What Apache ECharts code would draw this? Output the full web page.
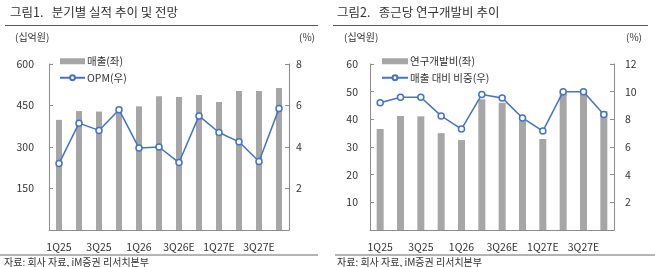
<!DOCTYPE html>
<html>
<head>
<meta charset="utf-8">
<script src="https://cdn.jsdelivr.net/npm/echarts@6/dist/echarts.min.js"></script>
<style>
  html, body { margin: 0; padding: 0; background: #fff; }
  #main { width: 655px; height: 267px; }
</style>
</head>
<body>
<div id="main"></div>
<script>
// 분기 카테고리
const quarters = ['1Q25', '2Q25', '3Q25', '4Q25', '1Q26', '2Q26E', '3Q26E', '4Q26E', '1Q27E', '2Q27E', '3Q27E', '4Q27E']
// 그림1: 매출(십억원), OPM(%)
const sales = [398, 430, 428, 436, 447, 483, 481, 488, 463, 502, 502, 513]
const opm = [3.2, 5.15, 4.8, 5.8, 3.95, 4.0, 3.25, 5.5, 4.7, 4.25, 3.3, 5.85]
// 그림2: 연구개발비(십억원), 매출 대비 비중(%)
const rnd = [36.5, 41.2, 41.1, 35.0, 32.5, 47.3, 46.0, 39.5, 32.9, 50.0, 50.1, 43.0]
const rndRatio = [9.2, 9.6, 9.6, 8.25, 7.3, 9.8, 9.55, 8.1, 7.15, 10.0, 10.0, 8.35]

const FONT = '"Noto Sans CJK KR", sans-serif'
const GRAY = '#a6a6a6'
const BLUE = '#4472c4'
const AXIS = '#8c8c8c'

const chart = echarts.init(document.getElementById('main'))

function xAxis(gridIndex) {
  return {
    type: 'category', gridIndex: gridIndex, data: quarters,
    axisLine: { lineStyle: { color: AXIS } },
    axisTick: { inside: true, length: 4, interval: 0, lineStyle: { color: AXIS } },
    axisLabel: { interval: 1, margin: 12, fontSize: 10.5, color: '#333', fontFamily: FONT }
  }
}

function yAxis(gridIndex, pos, max, interval, margin) {
  return {
    type: 'value', gridIndex: gridIndex, position: pos, min: 0, max: max, interval: interval,
    splitLine: { show: false },
    axisLine: { show: true, lineStyle: { color: AXIS } },
    axisTick: { show: true, inside: true, length: 4, lineStyle: { color: AXIS } },
    axisLabel: { showMinLabel: false, margin: margin, fontSize: 10.5, color: '#333', fontFamily: FONT }
  }
}

function lineSeries(name, data, x, y) {
  return {
    name: name, type: 'line', xAxisIndex: x, yAxisIndex: y, data: data,
    symbol: 'circle', symbolSize: 6, z: 5,
    lineStyle: { color: BLUE, width: 1.5 },
    itemStyle: { color: '#fff', borderColor: BLUE, borderWidth: 1.5 }
  }
}

function text(x, y, str, size, weight) {
  return {
    type: 'text', left: x, top: y,
    style: { text: str, fill: '#333', font: (weight || 'normal') + ' ' + size + 'px ' + FONT }
  }
}

const option = {
  animation: false,
  grid: [
    { left: 49, right: 366, top: 64, bottom: 37 },
    { left: 370, right: 41, top: 64, bottom: 37 }
  ],
  legend: [
    {
      left: 54, top: 51, orient: 'vertical', itemGap: 6, itemWidth: 25, itemHeight: 6,
      textStyle: { fontSize: 10.5, color: '#333', fontFamily: FONT, padding: [0, 0, 0, -3] },
      data: [{ name: '매출(좌)', icon: 'rect' }, { name: 'OPM(우)' }]
    },
    {
      left: 376, top: 51, orient: 'vertical', itemGap: 6, itemWidth: 26, itemHeight: 6,
      textStyle: { fontSize: 10.5, color: '#333', fontFamily: FONT, padding: [0, 0, 0, -3] },
      data: [{ name: '연구개발비(좌)', icon: 'rect' }, { name: '매출 대비 비중(우)' }]
    }
  ],
  xAxis: [xAxis(0), xAxis(1)],
  yAxis: [
    yAxis(0, 'left', 600, 150, 15),
    yAxis(0, 'right', 8, 2, 7),
    yAxis(1, 'left', 60, 10, 12),
    yAxis(1, 'right', 12, 2, 11)
  ],
  series: [
    { name: '매출(좌)', type: 'bar', xAxisIndex: 0, yAxisIndex: 0, data: sales, barWidth: 6, itemStyle: { color: GRAY } },
    lineSeries('OPM(우)', opm, 0, 1),
    { name: '연구개발비(좌)', type: 'bar', xAxisIndex: 1, yAxisIndex: 2, data: rnd, barWidth: 7, itemStyle: { color: GRAY } },
    lineSeries('매출 대비 비중(우)', rndRatio, 1, 3)
  ],
  graphic: [
    text(10, 6, '그림1.   분기별 실적 추이 및 전망', 12.5),
    text(337, 6, '그림2.   종근당 연구개발비 추이', 12.5),
    { type: 'rect', shape: { x: 5, y: 25, width: 313, height: 1 }, style: { fill: '#555' } },
    { type: 'rect', shape: { x: 333, y: 25, width: 315, height: 1 }, style: { fill: '#555' } },
    text(15, 32, '(십억원)', 10),
    text(299, 32, '(%)', 10),
    text(344, 32, '(십억원)', 10),
    text(626, 32, '(%)', 10),
    { type: 'rect', shape: { x: 0, y: 254, width: 318, height: 2 }, style: { fill: '#b4b4b4' } },
    { type: 'rect', shape: { x: 335, y: 254, width: 320, height: 2 }, style: { fill: '#b4b4b4' } },
    text(4, 257, '자료: 회사 자료, iM증권 리서치본부', 10),
    text(337, 257, '자료: 회사 자료, iM증권 리서치본부', 10)
  ]
}

chart.setOption(option)
</script>
</body>
</html>
